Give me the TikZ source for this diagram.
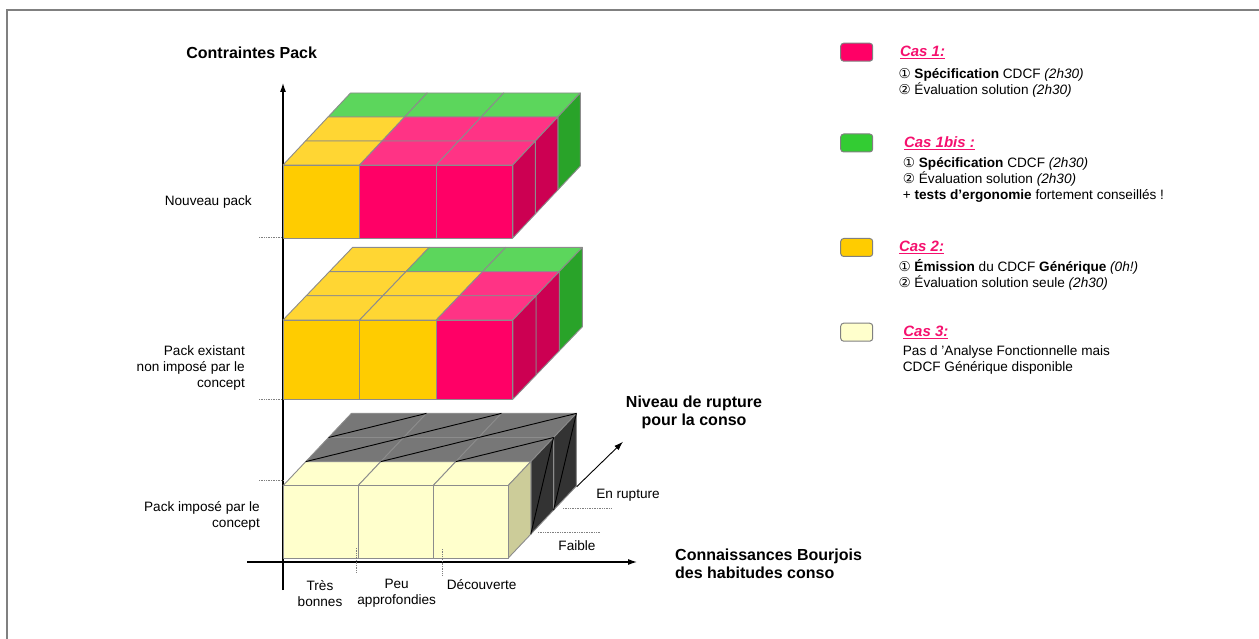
\documentclass[tikz,border=0pt]{standalone}
\usepackage{fontspec}
\setmainfont{Liberation Sans}
\newfontfamily\symfont{DejaVu Sans}
\usepackage{xcolor}
\usetikzlibrary{arrows.meta, positioning, calc}

\definecolor{yfront}{HTML}{FFCC00}
\definecolor{ytop}{HTML}{FFD633}
\definecolor{pfront}{HTML}{FF0066}
\definecolor{ptop}{HTML}{FF3385}
\definecolor{pside}{HTML}{CC0052}
\definecolor{gtop}{HTML}{5CD65C}
\definecolor{gside}{HTML}{29A329}
\definecolor{gleg}{HTML}{33CC33}
\definecolor{lfront}{HTML}{FFFFCC}
\definecolor{ltop}{HTML}{FFFFCC}
\definecolor{lside}{HTML}{CCCC99}
\definecolor{ktop}{HTML}{777777}
\definecolor{kside}{HTML}{333333}
\definecolor{edgegray}{HTML}{8C8C8C}
\definecolor{caspink}{HTML}{F5106E}

\newcommand{\numone}{{\symfont ①}}
\newcommand{\numtwo}{{\symfont ②}}

% faces of one layer of cubes, the layer is set by \bx \bt \bb \bw \dx \dy
\newcommand{\topface}[3]{\filldraw[cubeface, fill=#3top] ({\bx+#1*\bw+#2*\dx},{\bt-#2*\dy}) -- ++(\bw,0) -- ++(\dx,-\dy) -- ++(-\bw,0) -- cycle;}
\newcommand{\frontface}[2]{\filldraw[cubeface, fill=#2front] ({\bx+#1*\bw},\bt) rectangle ++(\bw,{\bb-\bt});}
\newcommand{\sideface}[2]{\filldraw[cubeface, fill=#2side] ({\bx+3*\bw+#1*\dx},{\bt-#1*\dy}) -- ++(0,{\bb-\bt}) -- ++(\dx,-\dy) -- ++(0,{\bt-\bb}) -- cycle;}

\begin{document}
\begin{tikzpicture}[x=1pt, y=-1pt,
  cubeface/.style={draw=edgegray, line width=0.9pt, line join=round},
  axis/.style={-{Latex[length=9pt, width=6pt]}, line width=1.1pt},
  tick/.style={densely dotted, draw=gray, line width=0.7pt},
  lbl/.style={inner sep=0pt, font=\fontsize{13.6}{16}\selectfont},
  head/.style={inner sep=0pt, align=center, font=\bfseries\fontsize{16}{18}\selectfont},
  legbox/.style={draw=gray, line width=1pt, rounded corners=3pt, minimum width=32pt, minimum height=18pt, inner sep=0pt},
  castitle/.style={inner sep=0pt, text=caspink, font=\bfseries\itshape\fontsize{15}{17}\selectfont},
  casbody/.style={inner sep=0pt, anchor=west, align=left, font=\fontsize{13.6}{16}\selectfont}]

\useasboundingbox (0,0) rectangle (1259,639);
\draw[gray, line width=2.5pt] (7,639) -- (7,10) -- (1259,10);

% Axes
\coordinate (ybot) at (283,590);
\coordinate (ytop) at (283,83);
\coordinate (xleft) at (247,562);
\coordinate (xright) at (637,562);
\coordinate (zstart) at (576.7,486.7);
\coordinate (zend) at (623,441.7);
\draw[axis] (ybot) -- (ytop);
\draw[axis] (xleft) -- (xright);

% Nouveau pack
\def\bx{283}\def\bt{165}\def\bb{238}\def\bw{76.6}\def\dx{22.5}\def\dy{24}
\foreach \c/\d/\f in {0/2/g,1/2/g,2/2/g,0/1/y,1/1/p,2/1/p,0/0/y,1/0/p,2/0/p} {\topface{\c}{\d}{\f}}
\foreach \d/\f in {2/g,1/p,0/p} {\sideface{\d}{\f}}
\foreach \c/\f in {0/y,1/p,2/p} {\frontface{\c}{\f}}

% Pack existant
\def\bx{283}\def\bt{320}\def\bb{399.3}\def\bw{76.6}\def\dx{23.2}\def\dy{24.2}
\foreach \c/\d/\f in {0/2/y,1/2/g,2/2/g,0/1/y,1/1/y,2/1/p,0/0/y,1/0/y,2/0/p} {\topface{\c}{\d}{\f}}
\foreach \d/\f in {2/g,1/p,0/p} {\sideface{\d}{\f}}
\foreach \c/\f in {0/y,1/y,2/p} {\frontface{\c}{\f}}

% Pack impose
\def\bx{283}\def\bt{485.7}\def\bb{558.3}\def\bw{75}\def\dx{22.8}\def\dy{24.1}
\foreach \c/\d/\f in {0/2/k,1/2/k,2/2/k,0/1/k,1/1/k,2/1/k,0/0/l,1/0/l,2/0/l} {\topface{\c}{\d}{\f}}
\foreach \d/\f in {2/k,1/k,0/l} {\sideface{\d}{\f}}
\foreach \c/\f in {0/l,1/l,2/l} {\frontface{\c}{\f}}
\foreach \c in {0,1,2} {\foreach \d in {1,2} {
  \draw[line width=0.9pt] ({\bx+\c*\bw+\d*\dx},{\bt-\d*\dy}) -- ++({\bw+\dx},-\dy);}}
\foreach \d in {1,2} {
  \draw[line width=0.9pt] ({\bx+3*\bw+\d*\dx},{\bb-\d*\dy}) -- ++(\dx,{\bt-\bb-\dy});}

\draw[axis, line width=0.9pt] (zstart) -- (zend);

% dotted ticks
\draw[tick] (259,237.7) -- (283,237.7);
\draw[tick] (259,399.3) -- (283,399.3);
\draw[tick] (259,480.7) -- (283,480.7);
\draw[tick] (356.7,548) -- (356.7,572);
\draw[tick] (442,549) -- (442,575);
\draw[tick] (563,508.3) -- (612,508.3);
\draw[tick] (538,532.7) -- (600,532.7);

% axis labels
\node[head] (ylab) at (251.7,52.7) {Contraintes Pack};
\node[lbl, anchor=east] (l3) at (252,201.7) {Nouveau pack};
\node[lbl, anchor=east, align=right] (l2) at (245,368) {Pack existant\\non imposé par le\\concept};
\node[lbl, anchor=east, align=right] (l1) at (260,515.7) {Pack imposé par le\\concept};
\node[head] (zlab) at (694,412) {Niveau de rupture\\pour la conso};
\node[head, anchor=west, align=left] (xlab) at (675,564) {Connaissances Bourjois\\des habitudes conso};
\node[lbl, align=center] (k1) at (320,593.3) {Très\\bonnes};
\node[lbl, align=center] (k2) at (396.7,593.3) {Peu\\approfondies};
\node[lbl] (k3) at (481.7,585) {Découverte};
\node[lbl] (zr) at (628,495) {En rupture};
\node[lbl] (zf) at (577,545.7) {Faible};

% Legend
\node[legbox, fill=pfront] (b1) at (856.7,52.2) {};
\node[castitle, right=26.6pt of b1] (c1) {\underline{Cas 1:}};
\node[casbody] (d1) at (898.3,82.5) {\numone{} \textbf{Spécification} CDCF \textit{(2h30)}\\\numtwo{} Évaluation solution \textit{(2h30)}};

\node[legbox, fill=gleg] (b2) at (856.7,143) {};
\node[castitle, right=30.6pt of b2] (c2) {\underline{Cas 1bis :}};
\node[casbody] (d2) at (902.7,180.4) {\numone{} \textbf{Spécification} CDCF \textit{(2h30)}\\\numtwo{} Évaluation solution \textit{(2h30)}\\+ \textbf{tests d’ergonomie} fortement conseillés !};

\node[legbox, fill=yfront] (b3) at (856.7,247.5) {};
\node[castitle, right=25.6pt of b3] (c3) {\underline{Cas 2:}};
\node[casbody] (d3) at (898.3,275.3) {\numone{} \textbf{Émission} du CDCF \textbf{Générique} \textit{(0h!)}\\\numtwo{} Évaluation solution seule \textit{(2h30)}};

\node[legbox, fill=lfront] (b4) at (856.7,332.2) {};
\node[castitle, right=30pt of b4] (c4) {\underline{Cas 3:}};
\node[casbody] (d4) at (902.7,359.5) {Pas d ’Analyse Fonctionnelle mais\\CDCF Générique disponible};

\end{tikzpicture}
\end{document}
